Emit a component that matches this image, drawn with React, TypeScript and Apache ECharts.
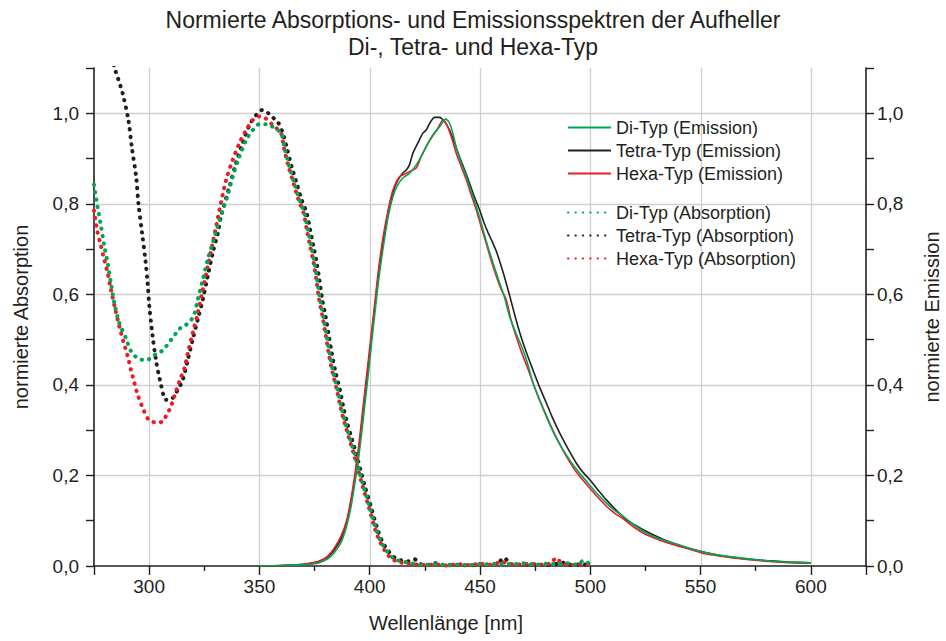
import { useEffect, useRef } from 'react';
import * as echarts from 'echarts';

// Wavelength [nm] / normalised intensity pairs for each brightener type.

const absDi: [number, number][] = [
  [275, 0.842], [276.6, 0.794], [278.2, 0.75], [279.7, 0.706], [281.2, 0.669], [282.7, 0.625],
  [284.2, 0.581], [286.5, 0.536], [289.5, 0.503], [291.8, 0.474], [294.8, 0.459], [297.8, 0.455],
  [300, 0.457], [303, 0.468], [305.5, 0.474], [307.7, 0.485], [310, 0.5], [312, 0.513],
  [314, 0.525], [316.5, 0.532], [319, 0.543], [320.5, 0.557], [322, 0.588], [324.3, 0.632],
  [326.5, 0.676], [328.8, 0.713], [331.1, 0.75], [333.3, 0.786], [335.2, 0.812], [337.9, 0.86],
  [340.9, 0.904], [344, 0.941], [347, 0.963], [350, 0.976], [353, 0.976], [356, 0.97],
  [359.8, 0.956], [361.3, 0.926], [363.6, 0.882], [365.9, 0.845], [368.1, 0.809], [370.4, 0.78],
  [372, 0.742], [373.5, 0.706], [375, 0.669], [376.2, 0.632], [377.5, 0.588], [379, 0.551],
  [380.3, 0.514], [381.8, 0.47], [383.6, 0.426], [385.5, 0.389], [387.1, 0.352], [389, 0.316],
  [391.2, 0.279], [393.1, 0.249], [395.1, 0.213], [397.2, 0.176], [399.9, 0.132], [402.9, 0.082],
  [405, 0.055], [407.5, 0.035], [410, 0.02], [413, 0.012], [417, 0.008], [420, 0.005],
  [425, 0.002], [430, 0.004], [435, 0.001], [440, 0.003], [445, 0.002], [450, 0.004],
  [455, 0.003], [460, 0.005], [465, 0.004], [470, 0.006], [475, 0.003], [480, 0.005],
  [485, 0.004], [490, 0.006], [494, 0.003], [497, 0.012], [500, 0.003],
];

const absTetra: [number, number][] = [
  [280, 1.22], [282, 1.16], [284.2, 1.103], [286, 1.075], [288, 1.044], [290.6, 0.985],
  [292.2, 0.923], [294.1, 0.86], [295.2, 0.798], [296.8, 0.735], [298.3, 0.676], [299.3, 0.625],
  [300.1, 0.573], [301.6, 0.507], [303.1, 0.455], [304.9, 0.411], [307.7, 0.367], [309.9, 0.368],
  [312.5, 0.385], [315.2, 0.411], [317.5, 0.455], [319.7, 0.5], [322, 0.544], [324.3, 0.588],
  [326.5, 0.639], [328.8, 0.691], [331.1, 0.735], [332.6, 0.772], [336.4, 0.838], [339.4, 0.89],
  [342.4, 0.934], [345.5, 0.974], [348.5, 0.996], [351.2, 1.007], [353.8, 1.001], [356, 0.991],
  [358.3, 0.981], [360.6, 0.956], [362.3, 0.926], [364.6, 0.882], [366.9, 0.845], [369.1, 0.809],
  [371.4, 0.78], [373, 0.742], [374.5, 0.706], [376, 0.669], [377.2, 0.632], [378.5, 0.588],
  [380, 0.551], [381.3, 0.514], [382.8, 0.47], [384.6, 0.426], [386.5, 0.389], [388, 0.352],
  [389.8, 0.316], [392, 0.279], [393.8, 0.249], [395.8, 0.213], [397.8, 0.176], [400.5, 0.132],
  [403.3, 0.085], [405.5, 0.056], [408, 0.036], [411, 0.02], [414, 0.013], [417, 0.01],
  [420.3, 0.015], [423, 0.004], [427, 0.003], [430, 0.006], [434, 0.002], [440, 0.003],
  [445, 0.001], [450, 0.004], [455, 0.003], [458, 0.006], [461, 0.018], [464, 0.004],
  [470, 0.003], [475, 0.004], [480, 0.002], [485, 0.005], [488, 0.007], [492, 0.002],
  [496, 0.004], [500, 0.002],
];

const absHexa: [number, number][] = [
  [275, 0.785], [276.5, 0.74], [278, 0.71], [279.5, 0.68], [281.2, 0.647], [282.7, 0.61],
  [284.7, 0.566], [286.5, 0.529], [288.3, 0.496], [290.2, 0.465], [291.8, 0.432], [293.3, 0.405],
  [294.8, 0.378], [297.1, 0.349], [299.8, 0.323], [303.1, 0.317], [306.1, 0.319], [307.9, 0.334],
  [309.6, 0.349], [311.4, 0.374], [313.7, 0.408], [316, 0.437], [317.5, 0.47], [319.7, 0.514],
  [322, 0.558], [324.3, 0.61], [326.5, 0.661], [328.8, 0.713], [331.9, 0.787], [334.9, 0.853],
  [337.9, 0.897], [340.9, 0.934], [344, 0.963], [347, 0.985], [350, 0.993], [353, 0.988],
  [356, 0.974], [359.8, 0.956], [361, 0.926], [363.2, 0.882], [365.5, 0.845], [367.7, 0.809],
  [370, 0.78], [371.5, 0.742], [373, 0.706], [374.6, 0.669], [375.8, 0.632], [377.1, 0.588],
  [378.6, 0.551], [379.9, 0.514], [381.4, 0.47], [383.2, 0.426], [385.1, 0.389], [386.7, 0.352],
  [388.6, 0.316], [390.8, 0.279], [392.7, 0.249], [394.7, 0.213], [396.8, 0.176], [399.5, 0.132],
  [402.5, 0.08], [404.8, 0.052], [407, 0.033], [409.5, 0.018], [412.5, 0.01], [416, 0.006],
  [420, 0.004], [425, 0.002], [430, 0.003], [435, 0.001], [440, 0.004], [445, 0.002],
  [450, 0.005], [455, 0.003], [460, 0.009], [463, 0.004], [468, 0.002], [472, 0.005],
  [477, 0.003], [482, 0.006], [484.6, 0.018], [487, 0.006], [491, 0.002], [495, 0.004],
  [500, 0.002],
];

const emDi: [number, number][] = [
  [350, 0], [360, 0.001], [370, 0.003], [375, 0.005], [378, 0.009], [381, 0.016], [384, 0.03],
  [387, 0.052], [389.5, 0.088], [391.5, 0.13], [393.5, 0.19], [395, 0.24], [396.5, 0.3],
  [398, 0.365], [399.5, 0.43], [401, 0.5], [402.5, 0.565], [404, 0.63], [406, 0.7],
  [408.5, 0.775], [410.5, 0.815], [412.5, 0.84], [415, 0.857], [418, 0.867], [421.1, 0.886],
  [424.1, 0.912], [426.4, 0.934], [428.6, 0.952], [431.7, 0.97], [434.4, 0.987], [435.9, 0.981],
  [437.7, 0.956], [439.2, 0.925], [441.5, 0.89], [443.8, 0.86], [446, 0.828], [448.3, 0.794],
  [450.5, 0.758], [452.8, 0.718], [455, 0.683], [457.4, 0.647], [458.9, 0.625], [461, 0.595],
  [463.4, 0.551], [466.5, 0.512], [469.5, 0.477], [472, 0.44], [474, 0.404], [477, 0.366],
  [480.1, 0.33], [483.5, 0.293], [487.6, 0.257], [493, 0.218], [499, 0.183], [503, 0.16],
  [507.3, 0.139], [511, 0.123], [514.8, 0.11], [520, 0.09], [525.4, 0.073], [531, 0.061],
  [537.5, 0.051], [545, 0.039], [552.7, 0.029], [560, 0.023], [567.8, 0.018], [575, 0.014],
  [584.4, 0.01], [592, 0.008], [600, 0.007],
];

const emTetra: [number, number][] = [
  [350, 0], [360, 0.001], [370, 0.004], [375, 0.007], [378, 0.012], [381, 0.02], [384, 0.036],
  [387, 0.06], [389.5, 0.095], [391.5, 0.14], [393.5, 0.2], [395, 0.255], [396.5, 0.32],
  [398, 0.385], [399.5, 0.45], [401, 0.515], [402.5, 0.58], [404, 0.645], [406, 0.715],
  [408.5, 0.785], [410.5, 0.825], [412.5, 0.85], [415, 0.868], [416.5, 0.874], [418, 0.886],
  [419.6, 0.912], [421.8, 0.934], [424.1, 0.956], [425.6, 0.963], [427.2, 0.978], [429.4, 0.991],
  [431.7, 0.991], [434, 0.981], [436.2, 0.963], [438.5, 0.934], [440.7, 0.904], [443, 0.875],
  [445.3, 0.845], [447.5, 0.815], [449.8, 0.787], [451.7, 0.76], [453.6, 0.737], [455.5, 0.717],
  [457.4, 0.695], [460.4, 0.65], [463.4, 0.598], [466, 0.55], [468, 0.516], [471, 0.472],
  [474, 0.433], [477, 0.395], [480.1, 0.36], [483, 0.326], [486.1, 0.294], [490, 0.258],
  [493.7, 0.227], [496.5, 0.208], [499.7, 0.191], [503.5, 0.168], [507.3, 0.146], [512, 0.122],
  [516.4, 0.102], [521.5, 0.087], [526.9, 0.073], [534, 0.057], [542, 0.043], [549.5, 0.033],
  [557.2, 0.025], [565, 0.019], [572.3, 0.015], [580, 0.012], [590, 0.009], [600, 0.007],
];

const emHexa: [number, number][] = [
  [350, 0], [360, 0.001], [370, 0.004], [375, 0.008], [378, 0.013], [381, 0.022], [384, 0.04],
  [387, 0.066], [389.5, 0.1], [391.5, 0.148], [393.5, 0.21], [395, 0.265], [396.5, 0.33],
  [398, 0.395], [399.5, 0.46], [401, 0.525], [402.5, 0.59], [404, 0.655], [406, 0.725],
  [408.5, 0.79], [410.5, 0.83], [413.5, 0.86], [416, 0.866], [418, 0.871], [421.1, 0.879],
  [423.3, 0.904], [425.6, 0.926], [427.9, 0.945], [430.9, 0.967], [433.2, 0.985], [435, 0.974],
  [437, 0.948], [439.2, 0.912], [441.5, 0.882], [443.8, 0.853], [446, 0.82], [448.3, 0.787],
  [450.5, 0.75], [452.8, 0.713], [455, 0.676], [457.4, 0.64], [459.5, 0.612], [461.9, 0.588],
  [464, 0.545], [466.5, 0.505], [469, 0.47], [472, 0.432], [475, 0.392], [478, 0.356],
  [481, 0.322], [484.5, 0.285], [488, 0.252], [493, 0.212], [499, 0.176], [503, 0.154],
  [507.3, 0.132], [511, 0.117], [515, 0.104], [520, 0.085], [525, 0.07], [531, 0.058],
  [537, 0.048], [545, 0.037], [552, 0.027], [560, 0.021], [568, 0.016], [576, 0.012],
  [584, 0.009], [592, 0.007], [600, 0.006],
];

// Gridline positions (wavelength and intensity values)
const xGridValues = [300, 350, 400, 450, 500, 550, 600];
const yGridValues = [0.2, 0.4, 0.6, 0.8, 1.0];

const TITLE = 'Normierte Absorptions- und Emissionsspektren der Aufheller\nDi-, Tetra- und Hexa-Typ';
const NAME_DI_EM = 'Di-Typ (Emission)';
const NAME_TETRA_EM = 'Tetra-Typ (Emission)';
const NAME_HEXA_EM = 'Hexa-Typ (Emission)';
const NAME_DI_ABS = 'Di-Typ (Absorption)';
const NAME_TETRA_ABS = 'Tetra-Typ (Absorption)';
const NAME_HEXA_ABS = 'Hexa-Typ (Absorption)';

const GREEN = '#00a651';
const BLACK = '#231f20';
const RED = '#ed1c24';
const INK = '#231f20';
const GRID = '#cfcfcf';
const FONT = '"Liberation Sans", Arial, Helvetica, sans-serif';

const fmtY = (v: number) => v.toFixed(1).replace('.', ',');

function emission(name: string, color: string, data: [number, number][]) {
  return {
    name,
    type: 'line',
    yAxisIndex: 1,
    data,
    symbol: 'none',
    smooth: 0.25,
    lineStyle: { color, width: 1.6 },
    itemStyle: { color },
    z: 3,
  };
}

function absorption(name: string, color: string, data: [number, number][]) {
  return {
    name,
    type: 'line',
    yAxisIndex: 0,
    data,
    symbol: 'none',
    smooth: 0.3,
    lineStyle: { color, width: 4, type: [0.4, 7], cap: 'round' },
    itemStyle: { color },
    z: 2,
  };
}

export default function App() {
  const ref = useRef<HTMLDivElement>(null);

  useEffect(() => {
    if (!ref.current) return;
    const chart = echarts.init(ref.current, undefined, { renderer: 'svg' });

    const axisLine = { show: true, onZero: false, lineStyle: { color: INK, width: 1.6 } };
    const tickStyle = { color: INK, width: 1.4 };
    const labelStyle = { color: INK, fontSize: 19, fontFamily: FONT };
    const nameStyle = { color: INK, fontSize: 20, fontFamily: FONT };
    const legendBase = {
      orient: 'vertical',
      left: 567,
      padding: 0,
      itemWidth: 43,
      itemHeight: 14,
      itemGap: 0,
      itemTextGap: 6,
      selectedMode: false,
      itemStyle: { opacity: 0 },
      textStyle: { fontSize: 18, lineHeight: 23, color: INK, fontFamily: FONT },
    };
    // y axes: major ticks every 0.2 (labelled), minor ticks in between
    const yBase = {
      type: 'value',
      min: 0,
      max: 1.1,
      minInterval: 0.2,
      maxInterval: 0.2,
      nameLocation: 'middle',
      nameTextStyle: nameStyle,
      axisLine,
      axisTick: { show: true, length: 8, lineStyle: tickStyle },
      minorTick: { show: true, splitNumber: 2, length: 8, lineStyle: tickStyle },
      axisLabel: { ...labelStyle, showMaxLabel: false, formatter: fmtY },
      splitLine: { show: false },
    };

    chart.setOption({
      animation: false,
      textStyle: { fontFamily: FONT },
      title: {
        text: TITLE,
        left: 'center',
        top: 1,
        textStyle: {
          fontSize: 23,
          fontWeight: 'normal',
          color: INK,
          lineHeight: 27,
          fontFamily: FONT,
        },
      },
      legend: [
        { ...legendBase, top: 116, data: [NAME_DI_EM, NAME_TETRA_EM, NAME_HEXA_EM] },
        { ...legendBase, top: 201, data: [NAME_DI_ABS, NAME_TETRA_ABS, NAME_HEXA_ABS] },
      ],
      grid: {
        left: 94,
        right: 80,
        top: 68,
        bottom: 75,
        containLabel: false,
        outerBoundsMode: 'none',
      },
      xAxis: {
        type: 'value',
        min: 275,
        max: 625,
        minInterval: 50,
        maxInterval: 50,
        name: 'Wellenlänge [nm]',
        nameLocation: 'middle',
        nameGap: 47,
        nameTextStyle: { ...nameStyle, padding: [0, 68, 0, 0] },
        axisLine,
        axisTick: { show: true, length: 9, lineStyle: tickStyle },
        minorTick: { show: true, splitNumber: 2, length: 5, lineStyle: tickStyle },
        axisLabel: { ...labelStyle, margin: 11, showMinLabel: false, showMaxLabel: false },
        splitLine: { show: false },
      },
      yAxis: [
        {
          ...yBase,
          position: 'left',
          name: 'normierte Absorption',
          nameGap: 63,
          axisLabel: { ...yBase.axisLabel, margin: 15 },
        },
        {
          ...yBase,
          position: 'right',
          name: 'normierte Emission',
          nameGap: 56,
          axisLabel: { ...yBase.axisLabel, margin: 11 },
        },
      ],
      series: [
        absorption(NAME_TETRA_ABS, BLACK, absTetra),
        absorption(NAME_HEXA_ABS, RED, absHexa),
        absorption(NAME_DI_ABS, GREEN, absDi),
        emission(NAME_TETRA_EM, BLACK, emTetra),
        emission(NAME_HEXA_EM, RED, emHexa),
        emission(NAME_DI_EM, GREEN, emDi),
      ],
    });

    // Gridlines placed through the axes' own scales
    const toPx = (x: number, y: number) =>
      chart.convertToPixel({ xAxisIndex: 0, yAxisIndex: 0 }, [x, y]) as number[];
    const xMin = 275;
    const xMax = 625;
    const yMin = 0;
    const yMax = 1.1;
    const lines: any[] = [];
    xGridValues.forEach((v) => {
      const a = toPx(v, yMin);
      const b = toPx(v, yMax);
      const x = Math.round(a[0]) + 0.5;
      lines.push({ type: 'line', shape: { x1: x, y1: a[1], x2: x, y2: b[1] } });
    });
    yGridValues.forEach((v) => {
      const a = toPx(xMin, v);
      const b = toPx(xMax, v);
      const y = Math.round(a[1]) + 0.5;
      lines.push({ type: 'line', shape: { x1: a[0], y1: y, x2: b[0], y2: y } });
    });
    chart.setOption({
      graphic: [
        {
          type: 'group',
          silent: true,
          z: 0,
          children: lines.map((l) => ({
            ...l,
            z: 0,
            style: { stroke: GRID, lineWidth: 1.3 },
          })),
        },
      ],
    });

    return () => chart.dispose();
  }, []);

  return (
    <div
      ref={ref}
      style={{ position: 'absolute', left: 0, top: 0, width: 946, height: 641, background: '#fff' }}
    />
  );
}
